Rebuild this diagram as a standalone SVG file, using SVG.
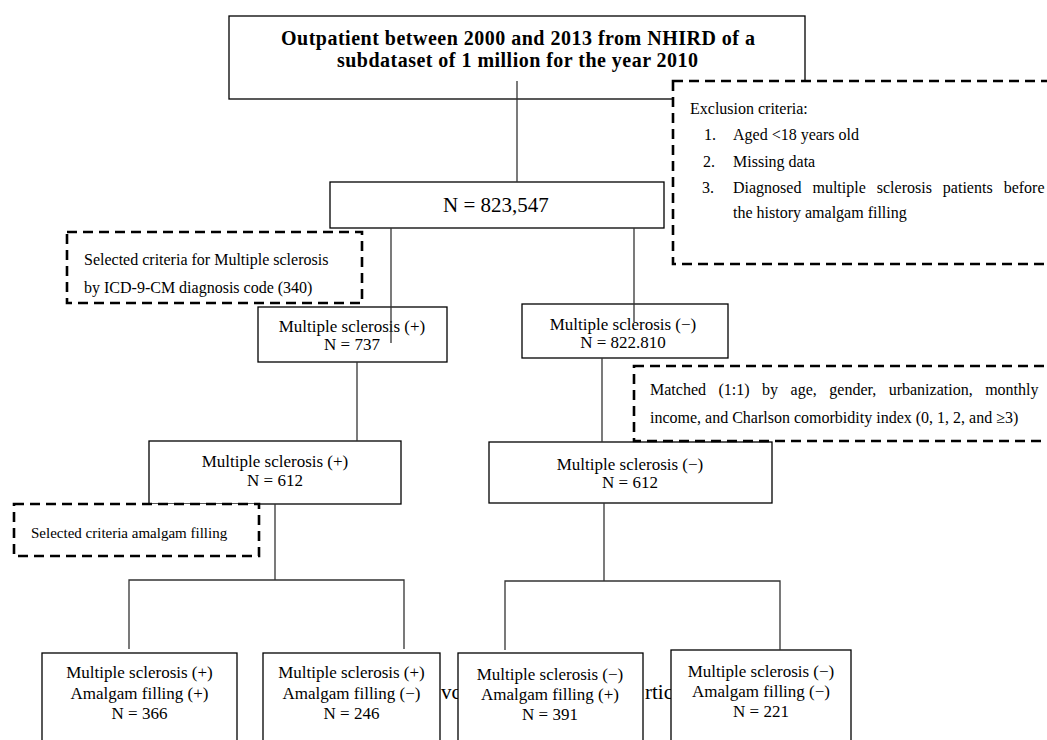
<svg xmlns="http://www.w3.org/2000/svg" width="1047" height="740" viewBox="0 0 1047 740">
<style>
.box{fill:#fff;stroke:#000;stroke-width:1.3}
.dash{fill:#fff;stroke:#000;stroke-width:2.6;stroke-dasharray:10 6}
.ln{fill:none;stroke:#333;stroke-width:1.3}
text{font-family:"Liberation Serif","Times New Roman",serif;fill:#000}
.t{font-size:17px;text-anchor:middle}
.d{font-size:16px}
.bold{font-size:20px;font-weight:bold;text-anchor:middle}
.bg{font-size:21px}
</style>
<rect width="1047" height="740" fill="#fff"/>
<g id="background-text">
<text class="bg" x="441" y="699">vc</text>
<text class="bg" x="645" y="699">rtic</text>
</g>
<g id="n-source">
<rect class="box" x="229" y="16" width="576" height="83"/>
<text class="bold" x="518" y="44.5" textLength="474" lengthAdjust="spacing">Outpatient between 2000 and 2013 from NHIRD of a</text>
<text class="bold" x="517.5" y="67" textLength="361" lengthAdjust="spacing">subdataset of 1 million for the year 2010</text>
</g>
<g id="n-total">
<rect class="box" x="330" y="182" width="334" height="46"/>
<text x="496" y="212" style="font-size:21px;text-anchor:middle">N = 823,547</text>
</g>
<g id="n-ms-pos-737">
<rect class="box" x="258" y="307" width="189" height="55"/>
<text class="t" x="352" y="332">Multiple sclerosis (+)</text>
<text class="t" x="352" y="350">N = 737</text>
</g>
<g id="n-ms-neg-822810">
<rect class="box" x="522" y="304" width="206" height="54"/>
<text class="t" x="623" y="330">Multiple sclerosis (−)</text>
<text class="t" x="623" y="348">N = 822.810</text>
</g>
<g id="n-ms-pos-612">
<rect class="box" x="149" y="441" width="252" height="63"/>
<text class="t" x="275" y="467">Multiple sclerosis (+)</text>
<text class="t" x="275" y="486">N = 612</text>
</g>
<g id="n-ms-neg-612">
<rect class="box" x="489" y="442" width="283" height="61"/>
<text class="t" x="630" y="470">Multiple sclerosis (−)</text>
<text class="t" x="630" y="488">N = 612</text>
</g>
<g id="n-pos-pos">
<rect class="box" x="42" y="653" width="195" height="100"/>
<text class="t" x="139.5" y="678">Multiple sclerosis (+)</text>
<text class="t" x="139.5" y="699">Amalgam filling (+)</text>
<text class="t" x="139.5" y="719">N = 366</text>
</g>
<g id="n-pos-neg">
<rect class="box" x="263" y="653" width="177" height="100"/>
<text class="t" x="351.5" y="678">Multiple sclerosis (+)</text>
<text class="t" x="351.5" y="699">Amalgam filling (−)</text>
<text class="t" x="351.5" y="719">N = 246</text>
</g>
<g id="n-neg-pos">
<rect class="box" x="458" y="653" width="185" height="100"/>
<text class="t" x="550" y="680">Multiple sclerosis (−)</text>
<text class="t" x="550" y="700">Amalgam filling (+)</text>
<text class="t" x="550" y="720">N = 391</text>
</g>
<g id="n-neg-neg">
<rect class="box" x="671" y="650" width="180" height="100"/>
<text class="t" x="761" y="677">Multiple sclerosis (−)</text>
<text class="t" x="761" y="697">Amalgam filling (−)</text>
<text class="t" x="761" y="717">N = 221</text>
</g>
<g id="connectors">
<line class="ln" x1="517" y1="81" x2="517" y2="182"/>
<line class="ln" x1="391" y1="228" x2="391" y2="343"/>
<line class="ln" x1="634" y1="228" x2="634" y2="322"/>
<line class="ln" x1="357" y1="362" x2="357" y2="441"/>
<line class="ln" x1="602" y1="358" x2="602" y2="442"/>
<polyline class="ln" points="275,504 275,580"/>
<polyline class="ln" points="129,649 129,580 404,580 404,649"/>
<polyline class="ln" points="604,503 604,581"/>
<polyline class="ln" points="505,650 505,581 780,581 780,650"/>
</g>
<g id="n-exclusion">
<rect class="dash" x="673" y="81" width="390" height="183"/>
<text class="d" x="690" y="114">Exclusion criteria:</text>
<text class="d" x="704" y="140">1.</text>
<text class="d" x="733" y="140">Aged &lt;18 years old</text>
<text class="d" x="703" y="167">2.</text>
<text class="d" x="733" y="167">Missing data</text>
<text class="d" x="702" y="193">3.</text>
<text class="d" x="733" y="193" word-spacing="7">Diagnosed multiple sclerosis patients before</text>
<text class="d" x="733" y="218">the history amalgam filling</text>
</g>
<g id="n-selected-ms">
<rect class="dash" x="67" y="232" width="295" height="71"/>
<text class="d" x="84" y="265">Selected criteria for Multiple sclerosis</text>
<text class="d" x="84" y="293">by ICD-9-CM diagnosis code (340)</text>
</g>
<g id="n-matched">
<rect class="dash" x="634" y="366" width="430" height="75"/>
<text class="d" x="650" y="395" word-spacing="8.5">Matched (1:1) by age, gender, urbanization, monthly</text>
<text class="d" x="650" y="423">income, and Charlson comorbidity index (0, 1, 2, and ≥3)</text>
</g>
<g id="n-selected-amalgam">
<rect class="dash" x="14" y="504" width="245" height="52"/>
<text x="31" y="538" style="font-size:15px">Selected criteria amalgam filling</text>
</g>
</svg>
